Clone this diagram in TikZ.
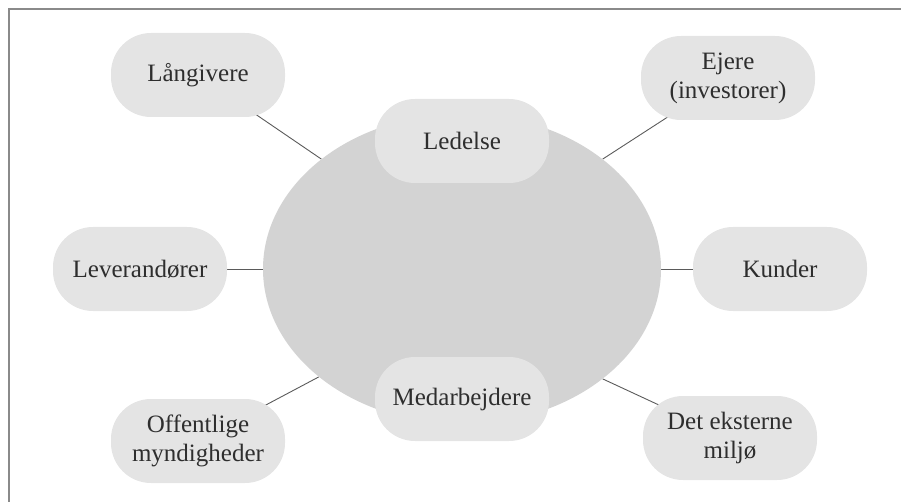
\documentclass[tikz,border=0pt]{standalone}
\usepackage{fontspec}
\setmainfont{Liberation Serif}
\usetikzlibrary{shapes.geometric, backgrounds}
\definecolor{ovalgray}{HTML}{D3D3D3}
\definecolor{boxgray}{HTML}{E4E4E4}
\definecolor{linegray}{HTML}{5A5A5A}
\definecolor{framegray}{HTML}{8A8A8A}
\definecolor{textgray}{HTML}{2E2E2E}
\tikzset{party/.style={fill=boxgray, rounded corners=40pt, minimum width=174pt,
    minimum height=84pt, align=center, text=textgray,
    font=\fontsize{25}{29}\selectfont}}
\tikzset{link/.style={draw=linegray, line width=0.9pt}}

\begin{document}
\begin{tikzpicture}[x=1pt, y=-1pt]
    \useasboundingbox (0,0) rectangle (901,502);
    \draw[framegray, line width=1.6pt] (9,502) -- (9,9) -- (901,9);
    \node[ellipse, fill=ovalgray, minimum width=398pt, minimum height=310pt, inner sep=0pt] (firm) at (462,269) {};
    \node[party] (ledelse) at (462,141) {Ledelse};
    \node[party] (medarb) at (462,399) {Medarbejdere};
    \node[party] (laan) at (198,75) {Långivere};
    \node[party] (ejere) at (728,78) {Ejere\\(investorer)};
    \node[party] (lev) at (140,269) {Leverandører};
    \node[party] (kunder) at (780,269) {Kunder};
    \node[party] (off) at (198,441) {Offentlige\\myndigheder};
    \node[party] (miljo) at (730,438) {Det eksterne\\miljø};
    \begin{scope}[on background layer]
    \draw[link] (laan.center) -- (firm.142);
    \draw[link] (ejere.center) -- (firm.38);
    \draw[link] (lev.center) -- (firm.180);
    \draw[link] (kunder.center) -- (firm.0);
    \draw[link] (off.center) -- (firm.217);
    \draw[link] (miljo.center) -- (firm.322);
    \end{scope}
    \end{tikzpicture}
\end{document}
